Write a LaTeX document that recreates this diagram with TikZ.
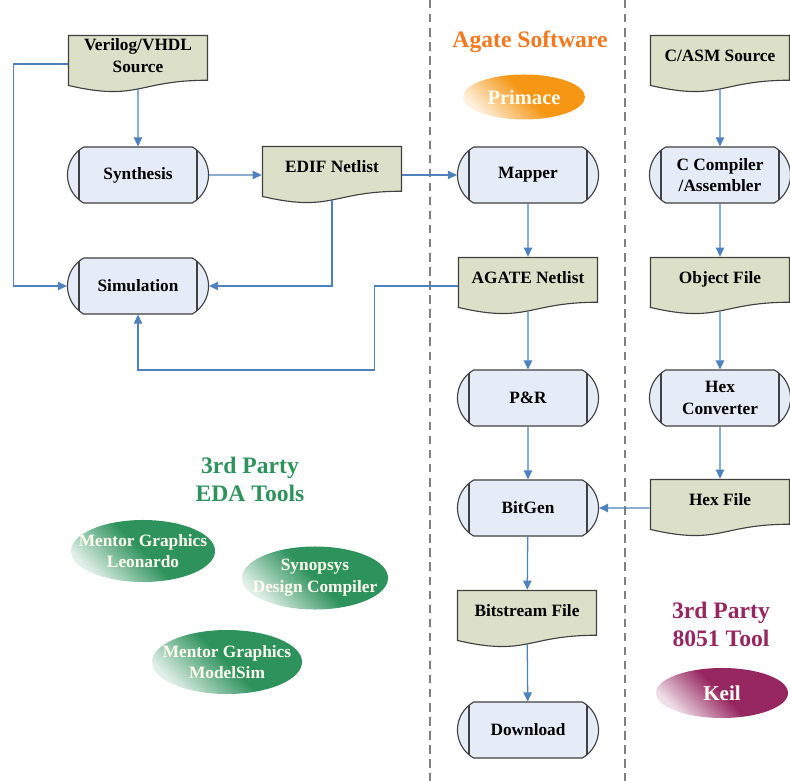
\documentclass[tikz,border=0pt]{standalone}
\usepackage{fontspec}
\setmainfont{Liberation Serif}
\usetikzlibrary{shapes.misc,shapes.geometric,arrows.meta,calc}

\definecolor{linegray}{RGB}{64,64,64}
\definecolor{docfill}{RGB}{221,224,200}
\definecolor{procfill}{RGB}{230,236,247}
\definecolor{flowblue}{RGB}{79,129,189}
\definecolor{sepgray}{RGB}{128,128,128}
\definecolor{agateorange}{RGB}{243,120,32}
\definecolor{primaceorange}{RGB}{245,150,20}
\definecolor{edagreen}{RGB}{46,146,92}
\definecolor{keilred}{RGB}{150,38,96}

\pgfdeclareverticalshading{edashade}{100bp}{color(0bp)=(edagreen!8!white); color(25bp)=(edagreen!15!white); color(50bp)=(edagreen); color(100bp)=(edagreen)}
\pgfdeclareverticalshading{keilshade}{100bp}{color(0bp)=(keilred!8!white); color(25bp)=(keilred!15!white); color(50bp)=(keilred); color(100bp)=(keilred)}
\pgfdeclareverticalshading{primaceshade}{100bp}{color(0bp)=(primaceorange!8!white); color(25bp)=(primaceorange!15!white); color(52bp)=(primaceorange); color(100bp)=(primaceorange)}

\newcommand{\boxfont}{\fontsize{12.3}{15.5}\selectfont\bfseries}
\newcommand{\headfont}{\fontsize{16.8}{20}\selectfont\bfseries}

\tikzset{
 proc/.style={rounded rectangle, rounded rectangle arc length=120, draw=linegray, line width=0.8pt,
   fill=procfill, minimum width=3.525cm, minimum height=1.4cm, inner sep=0pt, align=center, font=\boxfont,
   path picture={
     \draw[linegray, line width=0.8pt]
       ([xshift=0.404cm]path picture bounding box.north west) -- ([xshift=0.404cm]path picture bounding box.south west)
       ([xshift=-0.404cm]path picture bounding box.north east) -- ([xshift=-0.404cm]path picture bounding box.south east);
   }},
 doc/.style={minimum width=3.5cm, minimum height=1.45cm, inner sep=0pt, text depth=12pt, align=center, font=\boxfont,
   path picture={
     \draw[linegray, line width=0.8pt, fill=docfill]
       let \p1=(path picture bounding box.north west), \p2=(path picture bounding box.south east),
           \n1={\y1-\y2}, \n2={0.5*(\x1+\x2)} in
       (\x1+0.4pt,\y1-0.4pt) -- (\x2-0.4pt,\y1-0.4pt) -- (\x2-0.4pt,{\y1-0.78*\n1})
       .. controls (\n2,{\y1-0.78*\n1}) and (\n2,{\y1-1.15*\n1}) .. (\x1+0.4pt,{\y1-0.87*\n1}) -- cycle;
   }},
 flow/.style={flowblue, line width=0.9pt, -{Triangle[length=6.5pt,width=6pt]}},
 fromdoc/.style={shorten <=-2.8pt},
 lane/.style={sepgray, line width=1.4pt, dash pattern=on 6pt off 4pt},
 heading/.style={align=center, font=\headfont},
 tool/.style={ellipse, inner sep=0pt, shading angle=-45},
 tooltext/.style={align=center, text=white!94!yellow, font=\boxfont},
 edatool/.style={tool, shade, shading=edashade},
 keiltool/.style={tool, shade, shading=keilshade},
 primacetool/.style={tool, shade, shading=primaceshade}
}

\begin{document}
\begin{tikzpicture}[x=0.025cm, y=-0.025cm]
 \useasboundingbox (0,0) rectangle (790,781);

 \draw[lane] (430,0) -- (430,781);
 \draw[lane] (625,0) -- (625,781);

 % 3rd party EDA flow
 \node (verilog) at (138,64) [doc] {Verilog/VHDL\\Source};
 \node (synth) at (138,175) [proc] {Synthesis};
 \node (sim) at (138,286) [proc] {Simulation};
 \node (edif) at (332,175) [doc] {EDIF Netlist};

 % Agate flow
 \node (mapper) at (528,175) [proc] {Mapper};
 \node (agate) at (528,286) [doc] {AGATE Netlist};
 \node (pnr) at (528,398) [proc] {P\&R};
 \node (bitgen) at (528,508) [proc] {BitGen};
 \node (bitstream) at (527,619) [doc] {Bitstream File};
 \node (download) at (528,730) [proc] {Download};

 % 8051 flow
 \node (casm) at (720,64) [doc] {C/ASM Source};
 \node (ccomp) at (720,175) [proc] {C Compiler\\/Assembler};
 \node (objfile) at (720,286) [doc] {Object File};
 \node (hexconv) at (720,398) [proc] {Hex\\Converter};
 \node (hexfile) at (720,508) [doc] {Hex File};

 \node (agatesw) at (530,42) [heading, text=agateorange] {Agate Software};
 \node (primace) at (524,97) [primacetool, minimum width=3.05cm, minimum height=1.125cm,
   label={[tooltext, font=\fontsize{14.6}{17}\selectfont\bfseries]center:Primace}] {};
 \node (edahead) at (250,479) [heading, text=edagreen] {3rd Party\\EDA Tools};
 \node (leonardo) at (143,551) [edatool, minimum width=3.6cm, minimum height=1.55cm,
   label={[tooltext]center:{Mentor Graphics\\Leonardo}}] {};
 \node (synopsys) at (315,578) [edatool, minimum width=3.65cm, minimum height=1.575cm,
   label={[tooltext]center:{Synopsys\\Design Compiler}}] {};
 \node (modelsim) at (227,662) [edatool, minimum width=3.75cm, minimum height=1.6cm,
   label={[tooltext]center:{Mentor Graphics\\ModelSim}}] {};
 \node (keilhead) at (721,624) [heading, text=keilred] {3rd Party\\8051 Tool};
 \node (keil) at (722,693) [keiltool, minimum width=3.3cm, minimum height=1.25cm,
   label={[tooltext, font=\fontsize{15}{17}\selectfont\bfseries]center:Keil}] {};

 \draw[flow, fromdoc] (verilog) -- (synth);
 \draw[flow] (verilog.west) -- ++(-54,0) |- (sim.west);
 \draw[flow] (synth) -- (edif);
 \draw[flow, fromdoc] (edif.south) |- (sim.east);
 \draw[flow] (edif) -- (mapper);
 \draw[flow] (mapper) -- (agate);
 \draw[flow] (agate.west) -- ++(-83,0) -- ++(0,84) -| (sim.south);
 \draw[flow, fromdoc] (agate) -- (pnr);
 \draw[flow] (pnr) -- (bitgen);
 \draw[flow] (bitgen) -- (bitstream);
 \draw[flow, fromdoc] (bitstream) -- (download);

 \draw[flow, fromdoc] (casm) -- (ccomp);
 \draw[flow] (ccomp) -- (objfile);
 \draw[flow, fromdoc] (objfile) -- (hexconv);
 \draw[flow] (hexconv) -- (hexfile);
 \draw[flow] (hexfile) -- (bitgen);
\end{tikzpicture}
\end{document}
